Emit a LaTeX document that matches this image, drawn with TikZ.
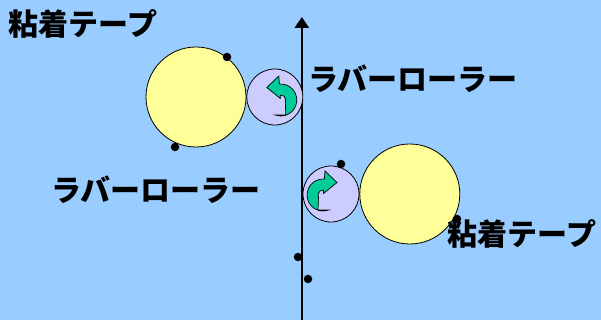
\documentclass[tikz,border=0pt]{standalone}
\usepackage{fontspec}
\newfontfamily\jpfont{Noto Sans CJK JP}
\usetikzlibrary{positioning, arrows.meta, calc}
\definecolor{clrsky}{HTML}{99CCFF}
\definecolor{clrtape}{HTML}{FFFF99}
\definecolor{clrroller}{HTML}{CCCCFF}
\definecolor{clrturn}{HTML}{00CC99}

\begin{document}
\begin{tikzpicture}[
    x=1pt, y=1pt,
    tape/.style={circle, draw=black, fill=clrtape, line width=0.8pt, minimum size=100pt, inner sep=0pt},
    roller/.style={circle, draw=black, fill=clrroller, line width=0.8pt, minimum size=56pt, inner sep=0pt},
    dot/.style={circle, fill=black, minimum size=8.5pt, inner sep=0pt},
    axis/.style={-{Triangle[length=11pt, width=14pt]}, line width=2.6pt},
    jptext/.style={font=\jpfont\bfseries\fontsize{30}{31}\selectfont, inner sep=0pt},
    turn/.pic={
        \draw[fill=clrturn, draw=black, line width=0.7pt]
            (-110:16pt) arc[start angle=-110, end angle=95, radius=16pt]
            -- (-2pt,24pt) -- (-14pt,12.5pt) -- (-0.5pt,1.5pt) -- (95:5pt)
            arc[start angle=95, end angle=-25, radius=5pt] -- (5pt,-15pt) -- cycle;
    },
]
\fill[clrsky] (0,0) rectangle (601,320);
\useasboundingbox (0,0) rectangle (601,320);
% vertical axis
\coordinate (ax_0) at (301.8,-2);
\coordinate (ax_1) at (301.8,303);
\draw[axis] (ax_0) -- (ax_1);
% upper pair
\node[tape] (tape_1) at (196,223) {};
\node[roller, right=0pt of tape_1] (roll_1) {};
% lower pair
\node[roller] (roll_2) at (331,126) {};
\node[tape, right=0pt of roll_2] (tape_2) {};
\pic at ($(roll_1.center)+(6,-3)$) {turn};
\pic[xscale=-1] at ($(roll_2.center)+(-8,-1)$) {turn};
% dots
\node[dot] (d_1) at (227,263) {};
\node[dot] (d_2) at (175,173) {};
\node[dot] (d_3) at (341,156) {};
\node[dot] (d_4) at (457,101) {};
\node[dot] (d_5) at (298,63) {};
\node[dot] (d_6) at (308,41) {};
% labels
\node[jptext] (lbl_tape_1) at (83,296) {粘着テープ};
\node[jptext] (lbl_roll_1) at (413,241) {ラバーローラー};
\node[jptext] (lbl_roll_2) at (156,130) {ラバーローラー};
\node[jptext] (lbl_tape_2) at (522,86) {粘着テープ};
\end{tikzpicture}
\end{document}
